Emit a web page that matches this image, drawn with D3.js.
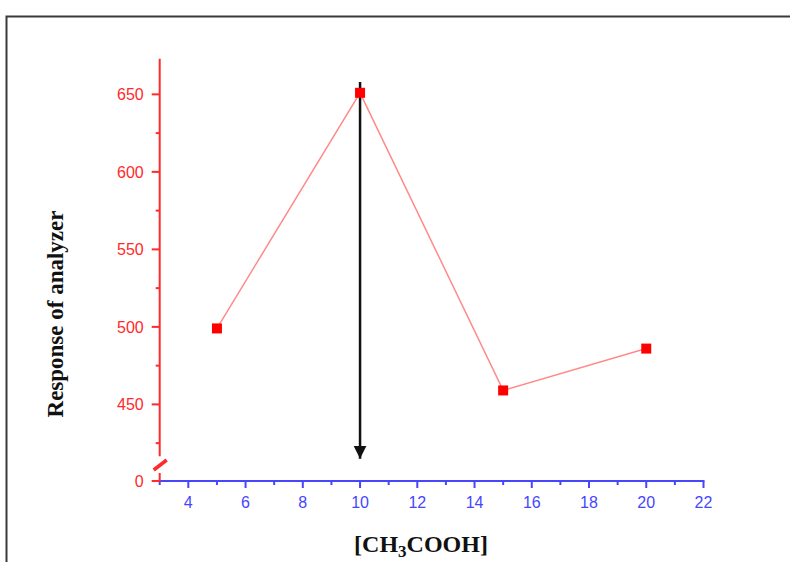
<!DOCTYPE html>
<html>
<head>
<meta charset="utf-8">
<script src="https://cdn.jsdelivr.net/npm/d3@7"></script>
<style>
	body { margin: 0; background: #fff; }
	svg { display: block; }
</style>
</head>
<body>
<div id="chart"></div>
<script>
// data
const concentration = [5, 10, 15, 20]
const response = [499, 651, 459, 486]
const xTicks = [4, 6, 8, 10, 12, 14, 16, 18, 20, 22]
const yTicks = [0, 450, 500, 550, 600, 650]
const yMinorTicks = [425, 475, 525, 575, 625]
const arrowFrom = [10, 658]
const arrowTo = [10, 415]

const width = 790
const height = 562

const red = '#ff2a2a'
const blue = '#4646ff'

const svg = d3.select('#chart')
	.append('svg')
	.attr('width', width)
	.attr('height', height)

// outer frame, runs off the right and bottom edge
svg.append('rect')
	.attr('x', 6.5)
	.attr('y', 16.5)
	.attr('width', 800)
	.attr('height', 600)
	.attr('fill', 'none')
	.attr('stroke', '#3a3a3a')
	.attr('stroke-width', 2)

const x = d3.scaleLinear()
	.domain([3, 22])
	.range([159.7, 703.5])

// broken axis: 0 sits just under the break, 410..673 is the real range
const y = d3.scaleLinear()
	.domain([0, 410, 673])
	.range([481, 466.4, 58.7])

const axisY = 481

// x axis (blue)
const xAxis = svg.append('g')
	.attr('transform', `translate(0,${axisY})`)

xAxis.append('line')
	.attr('x1', x(3) - 1)
	.attr('x2', x(22) + 1)
	.attr('stroke', blue)
	.attr('stroke-width', 2)

xAxis.selectAll('.major')
	.data(xTicks)
	.join('line')
	.attr('x1', d => x(d))
	.attr('x2', d => x(d))
	.attr('y1', 0)
	.attr('y2', 7)
	.attr('stroke', blue)
	.attr('stroke-width', 2)

xAxis.selectAll('.minor')
	.data(d3.range(3, 22, 2))
	.join('line')
	.attr('x1', d => x(d))
	.attr('x2', d => x(d))
	.attr('y1', 0)
	.attr('y2', 4)
	.attr('stroke', blue)
	.attr('stroke-width', 2)

xAxis.selectAll('text')
	.data(xTicks)
	.join('text')
	.attr('x', d => x(d))
	.attr('y', 27)
	.attr('text-anchor', 'middle')
	.attr('fill', blue)
	.style('font', '16px "Liberation Sans", Arial, sans-serif')
	.text(d => d)

// y axis (red), upper piece and the stub under the break
const axisX = x(3)
const yAxis = svg.append('g')

yAxis.append('line')
	.attr('x1', axisX).attr('x2', axisX)
	.attr('y1', y(673)).attr('y2', y(425) + 13)
	.attr('stroke', red)
	.attr('stroke-width', 2)

yAxis.append('line')
	.attr('x1', axisX).attr('x2', axisX)
	.attr('y1', 473).attr('y2', axisY + 1)
	.attr('stroke', red)
	.attr('stroke-width', 2)

// break mark
yAxis.append('line')
	.attr('x1', axisX - 6).attr('x2', axisX + 7)
	.attr('y1', 470).attr('y2', 460)
	.attr('stroke', red)
	.attr('stroke-width', 3.5)

yAxis.selectAll('.major')
	.data(yTicks)
	.join('line')
	.attr('x1', axisX - 8)
	.attr('x2', axisX)
	.attr('y1', d => y(d))
	.attr('y2', d => y(d))
	.attr('stroke', red)
	.attr('stroke-width', 2)

yAxis.selectAll('.minor')
	.data(yMinorTicks)
	.join('line')
	.attr('x1', axisX - 4)
	.attr('x2', axisX)
	.attr('y1', d => y(d))
	.attr('y2', d => y(d))
	.attr('stroke', red)
	.attr('stroke-width', 2)

yAxis.selectAll('text')
	.data(yTicks)
	.join('text')
	.attr('x', axisX - 16)
	.attr('y', d => y(d))
	.attr('dy', '0.36em')
	.attr('text-anchor', 'end')
	.attr('fill', red)
	.style('font', '16px "Liberation Sans", Arial, sans-serif')
	.text(d => d)

// series
const points = concentration.map((c, i) => ({ x: c, y: response[i] }))

svg.append('path')
	.datum(points)
	.attr('fill', 'none')
	.attr('stroke', '#ff8a8a')
	.attr('stroke-width', 1.5)
	.attr('d', d3.line().x(d => x(d.x)).y(d => y(d.y)))

// arrow
svg.append('defs')
	.append('marker')
	.attr('id', 'head')
	.attr('viewBox', '0 0 10 10')
	.attr('refX', 10)
	.attr('refY', 5)
	.attr('markerUnits', 'userSpaceOnUse')
	.attr('markerWidth', 13)
	.attr('markerHeight', 15)
	.attr('orient', 'auto')
	.append('path')
	.attr('d', 'M0,0 L10,5 L0,10 Z')
	.attr('fill', '#111')

svg.append('line')
	.attr('x1', x(arrowFrom[0]))
	.attr('y1', y(arrowFrom[1]))
	.attr('x2', x(arrowTo[0]))
	.attr('y2', y(arrowTo[1]))
	.attr('stroke', '#111')
	.attr('stroke-width', 2.5)
	.attr('marker-end', 'url(#head)')

svg.selectAll('.pt')
	.data(points)
	.join('rect')
	.attr('x', d => x(d.x) - 5)
	.attr('y', d => y(d.y) - 5)
	.attr('width', 10)
	.attr('height', 10)
	.attr('fill', '#ff0000')

// axis titles
svg.append('text')
	.attr('transform', 'translate(63,314) rotate(-90)')
	.attr('text-anchor', 'middle')
	.attr('fill', '#111')
	.style('font', 'bold 23px "Liberation Serif", "Times New Roman", serif')
	.text('Response of  analyzer')

const xTitle = svg.append('text')
	.attr('x', 421)
	.attr('y', 552)
	.attr('text-anchor', 'middle')
	.attr('fill', '#111')
	.style('font', 'bold 24px "Liberation Serif", "Times New Roman", serif')

xTitle.append('tspan').text('[CH')
xTitle.append('tspan').attr('dy', 5).style('font-size', '17px').text('3')
xTitle.append('tspan').attr('dy', -5).text('COOH]')
</script>
</body>
</html>
